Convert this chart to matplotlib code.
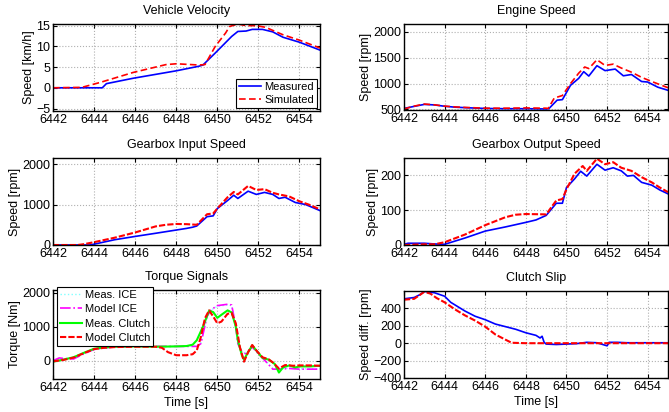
import matplotlib
matplotlib.use("Agg")
import matplotlib.pyplot as plt

plt.rcParams['font.family'] = ['Liberation Sans', 'DejaVu Sans']
plt.rcParams['font.size'] = 9

# --- vehicle velocity [km/h]
t_vel_meas = [6442, 6444.4, 6444.6, 6445.9, 6448.0, 6449.1, 6449.3, 6449.9, 6450.7, 6451.0,
              6451.4, 6451.7, 6452.2, 6452.7, 6453.2, 6454.0, 6455.0]
vel_meas = [0, 0, 1.0, 2.3, 4.1, 5.2, 5.5, 8.4, 12.4, 13.6, 13.7, 14.1, 14.1, 13.5, 12.2, 11.0, 9.1]
t_vel_sim = [6442, 6443.4, 6444.3, 6445.9, 6447.5, 6448.0, 6449.1, 6449.4, 6449.9, 6450.4,
             6450.6, 6451.0, 6451.4, 6451.9, 6452.35, 6453.2, 6454.0, 6455.0]
vel_sim = [0, 0.1, 1.3, 3.7, 5.6, 5.8, 5.5, 5.6, 10.0, 13.2, 14.8, 15.4, 15.0, 15.0, 14.6, 12.8, 11.5, 9.6]

# --- engine speed [rpm]
t_eng_meas = [6442, 6442.5, 6443, 6443.5, 6444, 6444.5, 6445, 6446, 6447, 6448, 6449, 6449.13,
              6449.54, 6449.8, 6450.2, 6450.6, 6450.85, 6451.1, 6451.5, 6451.9, 6452.4, 6452.8,
              6453.2, 6453.7, 6454.0, 6454.5, 6455.0]
eng_meas = [520, 560, 598, 588, 562, 545, 535, 520, 515, 515, 510, 515,
            680, 690, 967, 1100, 1230, 1145, 1345, 1250, 1280, 1150,
            1175, 1040, 1030, 930, 870]
t_eng_sim = [6442, 6442.5, 6443, 6443.5, 6444, 6444.5, 6445, 6446, 6447, 6448, 6449, 6449.1,
             6449.4, 6449.8, 6450.2, 6450.6, 6450.9, 6451.1, 6451.5, 6451.9, 6452.3, 6452.7,
             6453.2, 6453.7, 6454.2, 6454.6, 6455.0]
eng_sim = [510, 565, 605, 590, 565, 550, 540, 525, 525, 530, 525, 520,
           720, 770, 1000, 1200, 1320, 1290, 1460, 1350, 1375, 1300,
           1220, 1120, 1040, 980, 920]

# --- gearbox input speed [rpm]
t_gin_meas = [6442, 6443.8, 6444, 6445, 6446, 6447, 6448, 6448.5, 6448.8, 6449, 6449.5, 6449.8,
              6450, 6450.5, 6450.8, 6451, 6451.5, 6451.9, 6452.3, 6452.7, 6453, 6453.3,
              6453.8, 6454.3, 6455]
gin_meas = [0, 0, 20, 130, 212, 290, 370, 410, 440, 470, 700, 720,
            900, 1100, 1230, 1150, 1330, 1250, 1300, 1250, 1150, 1180,
            1050, 1000, 850]
t_gin_sim = [6442, 6443.2, 6443.5, 6444, 6445, 6446, 6447, 6447.5, 6448, 6448.5, 6449, 6449.5,
             6449.8, 6450, 6450.5, 6450.8, 6451, 6451.5, 6451.9, 6452.3, 6452.7, 6453,
             6453.5, 6454, 6454.5, 6455]
gin_sim = [0, 0, 20, 70, 180, 310, 460, 500, 520, 515, 500, 760,
           780, 900, 1180, 1310, 1250, 1460, 1360, 1380, 1290, 1250,
           1200, 1080, 990, 880]

# --- gearbox output speed [rpm]
t_gout_meas = [6442, 6442.2, 6443, 6443.5, 6444, 6445, 6446, 6447, 6448, 6448.5, 6449, 6449.5,
               6449.8, 6450, 6450.4, 6450.7, 6451, 6451.5, 6451.9, 6452.3, 6452.7, 6453,
               6453.3, 6453.7, 6454.2, 6454.6, 6455]
gout_meas = [2, 5, 5, 3, 2, 20, 40, 52, 65, 72, 85, 120,
             120, 165, 190, 212, 198, 232, 215, 222, 213, 198,
             200, 180, 172, 158, 147]
t_gout_sim = [6442, 6443, 6443.5, 6444, 6445, 6446, 6447, 6447.5, 6448, 6449, 6449.5, 6449.8,
              6450, 6450.4, 6450.8, 6451, 6451.5, 6451.9, 6452.3, 6452.7, 6453.2, 6453.7,
              6454.2, 6454.6, 6455]
gout_sim = [0, 2, 2, 8, 30, 57, 80, 87, 89, 88, 128, 132,
            160, 205, 227, 213, 248, 232, 238, 222, 213, 195,
            180, 165, 152]

# --- torque signals [Nm]
t_tq_clutch = [6442, 6442.5, 6443, 6443.5, 6444, 6444.5, 6445, 6446, 6447, 6448, 6448.5, 6448.8,
               6449, 6449.3, 6449.6, 6449.8, 6450, 6450.2, 6450.5, 6450.7, 6450.9, 6451,
               6451.2, 6451.3, 6451.5, 6451.7, 6451.9, 6452.2, 6452.5, 6452.8, 6453, 6453.2,
               6453.5, 6453.8, 6454, 6454.5, 6455]
tq_meas_clutch = [-30, 30, 100, 230, 350, 390, 410, 420, 410, 420, 430, 470,
                  600, 1000, 1470, 1430, 1260, 1350, 1480, 1420, 1000, 600,
                  150, 30, 250, 450, 300, 80, 30, -100, -350, -200,
                  -140, -200, -170, -170, -150]
t_tq_model = [6442, 6442.5, 6443, 6443.5, 6444, 6444.5, 6445, 6446, 6447, 6447.3, 6447.6, 6448,
              6448.5, 6448.8, 6449, 6449.2, 6449.4, 6449.6, 6449.8, 6450, 6450.2, 6450.5,
              6450.7, 6450.9, 6451.1, 6451.3, 6451.5, 6451.7, 6451.9, 6452.2, 6452.5, 6452.7,
              6453, 6453.3, 6453.7, 6454, 6454.5, 6455]
tq_model_clutch = [-20, 20, 90, 220, 340, 380, 400, 410, 410, 380, 250, 160,
                   160, 190, 300, 700, 1250, 1480, 1300, 1100, 1150, 1380,
                   1400, 1100, 400, -30, 250, 460, 300, 100, 40, -50,
                   -230, -130, -150, -140, -140, -150]
t_tq_ice = [6442, 6442.3, 6442.6, 6443, 6443.5, 6444, 6444.5, 6445, 6446, 6447, 6448, 6449,
            6449.2, 6449.5, 6449.7, 6450, 6450.5, 6450.7, 6450.9, 6451, 6451.2, 6451.4,
            6451.7, 6452, 6452.4, 6452.7, 6453, 6453.5, 6454, 6455]
tq_meas_ice = [-20, 60, 40, 80, 210, 330, 380, 400, 410, 410, 420, 430,
               520, 1320, 1490, 1600, 1640, 1620, 1000, 520, 260, 210,
               410, 210, -40, -230, -240, -220, -240, -240]
tq_model_ice = [0, 80, 60, 50, 200, 330, 380, 400, 420, 420, 420, 420,
                500, 1300, 1500, 1620, 1660, 1640, 1000, 500, 250, 200,
                400, 200, -50, -250, -250, -230, -250, -250]

# --- clutch slip [rpm]
t_slip_meas = [6442, 6442.5, 6442.8, 6443, 6443.5, 6444, 6444.3, 6445, 6445.5, 6446, 6446.5, 6447,
               6447.5, 6448, 6448.5, 6448.7, 6448.8, 6448.9, 6449, 6449.5, 6450, 6450.5,
               6451, 6451.5, 6452, 6452.1, 6452.5, 6453, 6454, 6455]
slip_meas = [510, 525, 560, 595, 580, 540, 470, 370, 310, 270, 220, 190,
             160, 120, 90, 60, 80, 10, -10, -15, -10, -5,
             10, 5, -30, 10, 10, 5, 5, 5]
t_slip_model = [6442, 6442.5, 6443, 6443.3, 6443.6, 6444, 6444.5, 6445, 6445.5, 6446, 6446.5,
                6447, 6447.3, 6448, 6455]
slip_model = [500, 510, 590, 570, 520, 470, 390, 320, 260, 190, 100, 40, 5, 0, 0]

xticks = [6442, 6444, 6446, 6448, 6450, 6452, 6454]

W, H = 669, 412
fig = plt.figure(figsize=(W / 100, H / 100), dpi=100)


def make_ax(x0, y0, x1, y1):
    ax = fig.add_axes([x0 / W, 1 - y1 / H, (x1 - x0) / W, (y1 - y0) / H])
    ax.set_xlim(6442, 6455)
    ax.set_xticks(xticks)
    ax.grid(True, linestyle=':', color='#b0b0b0', linewidth=0.8)
    ax.tick_params(direction='in', top=True, right=True, length=3, width=0.8,
                   labelsize=9)
    ax.tick_params(axis='x', pad=2.5)
    ax.tick_params(axis='y', pad=2)
    for s in ax.spines.values():
        s.set_linewidth(1.0)
    return ax


def small_legend(ax, spacing=0.25, **kw):
    leg = ax.legend(fontsize=8, frameon=True, fancybox=False, edgecolor='k',
                    handlelength=2.0, borderpad=0.25, labelspacing=spacing,
                    handletextpad=0.3, **kw)
    leg.get_frame().set_linewidth(0.8)
    leg.get_frame().set_alpha(1)
    return leg


LX0, LX1 = 53, 320
RX0, RX1 = 404, 668
TPAD = 7.5

# Vehicle velocity
ax = make_ax(LX0, 24, LX1, 111)
ax.plot(t_vel_meas, vel_meas, color='b', lw=1.2, label='Measured')
ax.plot(t_vel_sim, vel_sim, color='r', lw=1.2, ls='--', dashes=(4, 2), label='Simulated')
ax.set_ylim(-5.6, 15.4)
ax.set_yticks([-5, 0, 5, 10, 15])
ax.set_yticklabels(['\u22125', '0', '5', '10', '15'])
ax.set_ylabel('Speed [km/h]', labelpad=1)
ax.set_title('Vehicle Velocity', fontsize=9, pad=TPAD)
small_legend(ax, loc='lower right', borderaxespad=0.3)

# Engine speed
ax = make_ax(RX0, 24, RX1, 110)
ax.plot(t_eng_meas, eng_meas, color='b', lw=1.2)
ax.plot(t_eng_sim, eng_sim, color='r', lw=1.2, ls='--', dashes=(4, 2))
ax.set_ylim(490, 2150)
ax.set_yticks([500, 1000, 1500, 2000])
ax.set_ylabel('Speed [rpm]', labelpad=1)
ax.set_title('Engine Speed', fontsize=9, pad=TPAD)

# Gearbox input speed
ax = make_ax(LX0, 158, LX1, 245)
ax.plot(t_gin_meas, gin_meas, color='b', lw=1.2)
ax.plot(t_gin_sim, gin_sim, color='r', lw=1.5, ls='--', dashes=(3, 1))
ax.set_ylim(0, 2150)
ax.set_yticks([0, 1000, 2000])
ax.set_ylabel('Speed [rpm]', labelpad=1)
ax.set_title('Gearbox Input Speed', fontsize=9, pad=TPAD)

# Gearbox output speed
ax = make_ax(RX0, 158, RX1, 245)
ax.plot(t_gout_meas, gout_meas, color='b', lw=1.2)
ax.plot(t_gout_sim, gout_sim, color='r', lw=1.5, ls='--', dashes=(3, 1))
ax.set_ylim(0, 250)
ax.set_yticks([0, 100, 200])
ax.set_ylabel('Speed [rpm]', labelpad=1)
ax.set_title('Gearbox Output Speed', fontsize=9, pad=TPAD)

# Torque signals
ax = make_ax(LX0, 290, LX1, 379)
ax.plot(t_tq_ice, tq_meas_ice, color='#80ffff', lw=1.0, ls=':', label='Meas. ICE')
ax.plot(t_tq_ice, tq_model_ice, color='#ff00ff', lw=1.2, ls='-.', label='Model ICE')
ax.plot(t_tq_clutch, tq_meas_clutch, color='#00ff00', lw=1.5, label='Meas. Clutch')
ax.plot(t_tq_model, tq_model_clutch, color='r', lw=1.5, ls='--', dashes=(3, 1),
        label='Model Clutch')
ax.set_ylim(-540, 2080)
ax.set_yticks([0, 1000, 2000])
ax.set_ylabel('Torque [Nm]', labelpad=1)
ax.set_xlabel('Time [s]', labelpad=1.5)
ax.set_title('Torque Signals', fontsize=9, pad=TPAD)
small_legend(ax, spacing=0.4, loc='upper left', borderaxespad=0,
             bbox_to_anchor=((57 - LX0) / (LX1 - LX0), 1 + 3 / 89))

# Clutch slip
ax = make_ax(RX0, 291, RX1, 378)
ax.plot(t_slip_meas, slip_meas, color='b', lw=1.2)
ax.plot(t_slip_model, slip_model, color='r', lw=1.5, ls='--', dashes=(3, 1))
ax.set_ylim(-400, 600)
ax.set_yticks([-400, -200, 0, 200, 400])
ax.set_yticklabels(['\u2212400', '\u2212200', '0', '200', '400'])
ax.set_ylabel('Speed diff. [rpm]', labelpad=1)
ax.set_xlabel('Time [s]', labelpad=1.5)
ax.set_title('Clutch Slip', fontsize=9, pad=TPAD)

fig.savefig('out.png', dpi=100)
